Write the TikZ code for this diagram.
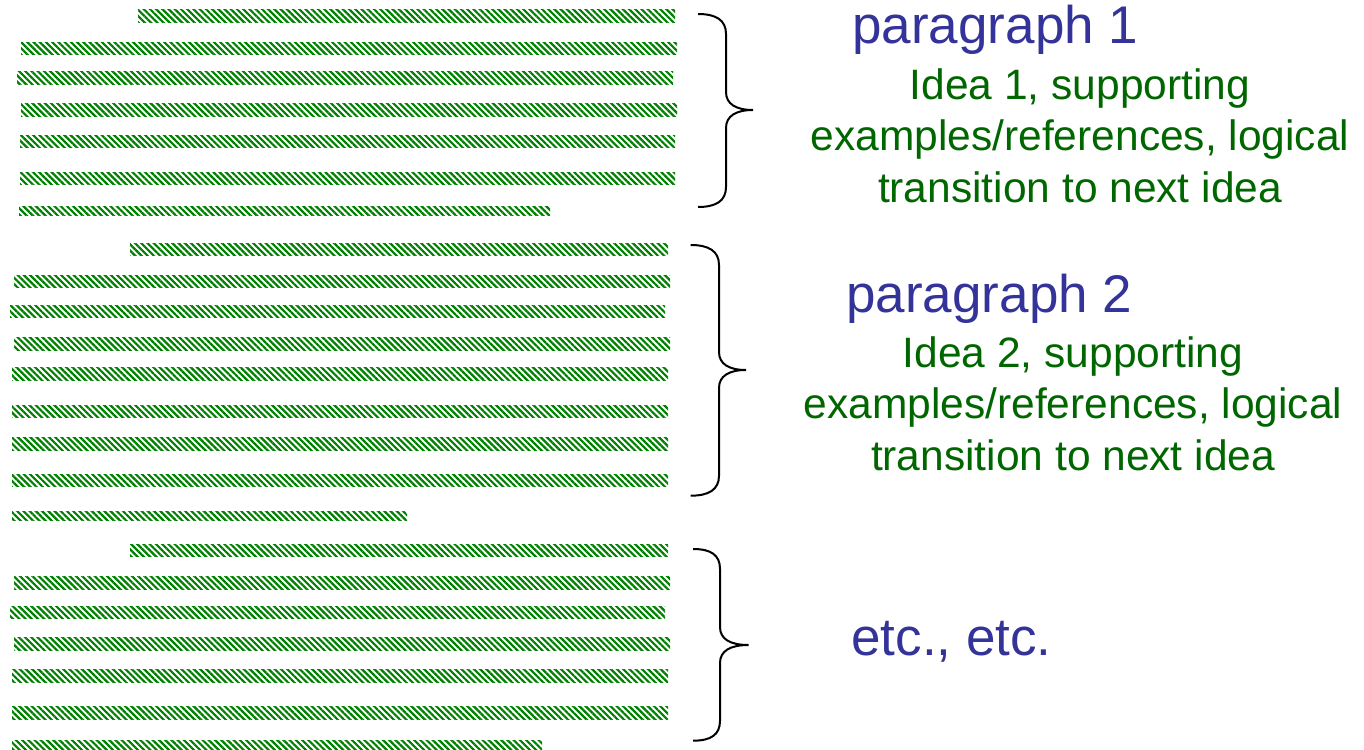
\documentclass[tikz,border=0pt]{standalone}
\usepackage{fontspec}
\setmainfont{Liberation Sans}
\usetikzlibrary{patterns.meta}
\definecolor{HeadBlue}{RGB}{51,51,153}
\definecolor{IdeaGreen}{RGB}{0,102,0}
\definecolor{BarGreen}{RGB}{0,128,0}
\tikzset{
    textbar/.style={pattern={Lines[angle=-45,distance=2.2pt,line width=1.1pt]},pattern color=BarGreen},
    curly/.style={line width=1pt,black},
    head/.style={HeadBlue,inner sep=0pt,font=\fontsize{26.5pt}{31pt}\selectfont},
    idea/.style={IdeaGreen,inner sep=0pt,align=center,font=\fontsize{21.25pt}{25.75pt}\selectfont}
}

\begin{document}
\begin{tikzpicture}[x=0.5pt,y=-0.5pt]
                \useasboundingbox (0,0) rectangle (1364,749);

                % text lines of the three paragraphs
                \foreach \xa/\xb/\ya/\yb in {138/675/10/22.7, 21/677/42.3/54.3, 17/673/71.7/84.3, 21/677/104/116.7,
                        20/675/135/147.7, 20/675/172/184.3, 19/550/206/215.7,
                        130/668/243.3/255.7, 14/670/275/287.7, 10/665/305/317.7, 14/670/337.3/350,
                        12/668/367.7/380.7, 12/668/405/417.7, 12/668/437/450, 12/668/474/486.7, 12/407/511/520.7,
                        130/668/544.3/556.7, 14/670/576/589, 10/665/606/618.7, 14/670/637.7/650.7,
                        12/668/669/682, 12/668/706.7/719, 12/542/740/752} {
                    \fill[textbar] (\xa,\ya) rectangle (\xb,\yb);
                }

                % braces
                \foreach \xe/\xs/\xt/\yt/\ym/\yb in {698/726/753/14/110/207, 690.7/719/746/245/370/495.7, 693/720/748.7/549/645/740.7} {
                    \draw[curly] (\xe,\yt) .. controls ({\xe+18},\yt) and (\xs,{\yt+6}) .. (\xs,{\yt+20})
                        -- (\xs,{\ym-18}) .. controls (\xs,{\ym-6}) and ({\xs+10},\ym) .. (\xt,\ym)
                        .. controls ({\xs+10},\ym) and (\xs,{\ym+6}) .. (\xs,{\ym+18})
                        -- (\xs,{\yb-20}) .. controls (\xs,{\yb-6}) and ({\xe+18},\yb) .. (\xe,\yb);
                }

                \node[head,anchor=base west] (par1) at (852,43.5) {paragraph 1};
                \node[idea,anchor=north] (idea1) at (1080,68) {Idea 1, supporting\\examples/references, logical\\transition to next idea};
                \node[head,anchor=base west] (par2) at (846,312) {paragraph 2};
                \node[idea,anchor=north] (idea2) at (1073,336) {Idea 2, supporting\\examples/references, logical\\transition to next idea};
                \node[head,anchor=base west] (etc) at (851,655) {etc., etc.};
            \end{tikzpicture}
\end{document}
